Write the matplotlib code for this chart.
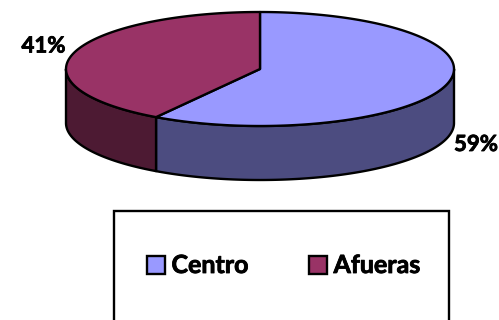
import numpy as np
import matplotlib
matplotlib.use("Agg")
import matplotlib.pyplot as plt
import matplotlib.patheffects as pe
from matplotlib.patches import Polygon, Rectangle

categories = ["Centro", "Afueras"]
values = [59, 41]
labels = ["59%", "41%"]
top_colors = ["#9999FF", "#993366"]
side_colors = ["#4C4C80", "#4D1A33"]

W, H = 499, 320
cx, cy, rx, ry, depth = 260, 69, 194, 57, 54
EDGE = "black"
LW = 1.7

plt.rcParams["font.family"] = ["Lato", "DejaVu Sans"]
fig = plt.figure(figsize=(W / 100, H / 100), dpi=100, facecolor="white")
ax = fig.add_axes([0, 0, 1, 1])
ax.set_xlim(0, W)
ax.set_ylim(H, 0)
ax.axis("off")
heavy = [pe.withStroke(linewidth=0.6, foreground="black")]


def rim(a0, a1, dy=0, n=200):
    t = np.radians(np.linspace(a0, a1, n))
    return np.c_[cx + rx * np.sin(t), cy + dy + ry * -np.cos(t)]


fracs = np.cumsum([0] + values) / sum(values) * 360
# sides: visible only on the lower half of the ellipse (90..270 deg clockwise from top)
for i in range(len(values)):
    a0, a1 = max(fracs[i], 90), min(fracs[i + 1], 270)
    if a1 > a0:
        top = rim(a0, a1)
        bot = rim(a0, a1, depth)[::-1]
        ax.add_patch(Polygon(np.r_[top, bot], closed=True, fc=side_colors[i], ec=EDGE, lw=LW, joinstyle="round", zorder=2))
# tops
for i in range(len(values)):
    pts = np.r_[[[cx, cy]], rim(fracs[i], fracs[i + 1])]
    ax.add_patch(Polygon(pts, closed=True, fc=top_colors[i], ec=EDGE, lw=LW, joinstyle="round", zorder=3))

# data labels
ax.text(476, 144.5, labels[0], fontsize=16, fontweight="bold", ha="center", va="center", color="black", path_effects=heavy)
ax.text(43.5, 46, labels[1], fontsize=16, fontweight="bold", ha="center", va="center", color="black", path_effects=heavy)

# legend box (runs off the bottom edge)
ax.add_patch(Rectangle((114.5, 211), 334.5, 130, fc="white", ec="black", lw=1.7, zorder=1))
for x, c, name in zip([147.5, 309.5], top_colors, categories):
    ax.add_patch(Rectangle((x, 255.5), 18, 18, fc=c, ec="black", lw=1.7, zorder=3))
    ax.text(x + 24, 265.5, name, fontsize=18, fontweight="bold", ha="left", va="center", color="black", path_effects=heavy)

fig.savefig("out.png", dpi=100, facecolor="white")
